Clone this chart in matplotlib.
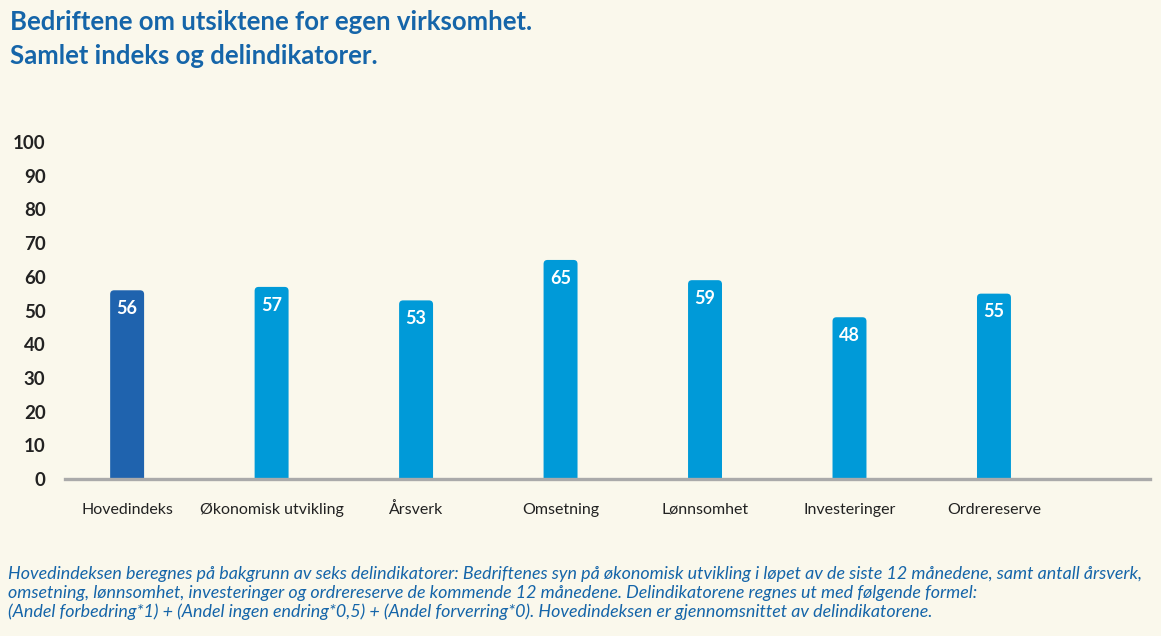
import matplotlib
matplotlib.use("Agg")
import matplotlib.pyplot as plt
from matplotlib.patches import FancyBboxPatch
from matplotlib.transforms import blended_transform_factory

categories = ["Hovedindeks", "Økonomisk utvikling", "Årsverk", "Omsetning",
              "Lønnsomhet", "Investeringer", "Ordrereserve"]
values = [56, 57, 53, 65, 59, 48, 55]
y_ticks = [0, 10, 20, 30, 40, 50, 60, 70, 80, 90, 100]

title = "Bedriftene om utsiktene for egen virksomhet.\nSamlet indeks og delindikatorer."
footnote = ("Hovedindeksen beregnes på bakgrunn av seks delindikatorer: Bedriftenes syn på økonomisk utvikling i løpet av de siste 12 månedene, samt antall årsverk,\n"
            "omsetning, lønnsomhet, investeringer og ordrereserve de kommende 12 månedene. Delindikatorene regnes ut med følgende formel:\n"
            "(Andel forbedring*1) + (Andel ingen endring*0,5) + (Andel forverring*0). Hovedindeksen er gjennomsnittet av delindikatorene.")

BG = "#faf8ec"
DARK = "#1f63ae"
LIGHT = "#009ad8"
TITLE_C = "#1565a9"
plt.rcParams['font.family'] = ['Lato', 'DejaVu Sans']

W, H = 1161, 636
fig = plt.figure(figsize=(W / 100, H / 100), dpi=100, facecolor=BG)
ax = fig.add_axes([65 / W, 1 - 479 / H, (1150 - 65) / W, (479 - 142) / H])
ax.set_facecolor(BG)

x = list(range(len(categories)))
colors = [DARK] + [LIGHT] * (len(categories) - 1)
bars = ax.bar(x, values, width=0.235, color=colors)
ax.set_xlim(-0.43, 7.08)
ax.set_ylim(0, 100)

# rounded top corners
ppx = (1150 - 65) / (7.08 + 0.43)
ppy = (479 - 142) / 100
for b, c in zip(bars, colors):
    bx, by, bw, bh = b.get_x(), b.get_y(), b.get_width(), b.get_height()
    b.set_visible(False)
    r = 4 / ppx
    p = FancyBboxPatch((bx, by - 2), bw, bh + 2,
                       boxstyle=f"round,pad=0,rounding_size={r}",
                       mutation_aspect=ppx / ppy, facecolor=c, edgecolor='none',
                       zorder=2)
    ax.add_patch(p)

for xi, v in zip(x, values):
    ax.annotate(str(v), (xi, v), xytext=(0, -7), textcoords='offset points',
                ha='center', va='top', color='white', fontsize=13,
                fontweight='bold', zorder=3)

ax.set_yticks(y_ticks)
ax.set_yticklabels([str(t) for t in y_ticks], fontsize=13.5, fontweight='bold',
                   color='#222222')
ax.set_xticks(x)
ax.set_xticklabels([])
trans = blended_transform_factory(ax.transData, ax.transAxes)
for xi, lab in zip(x, categories):
    ax.text(xi, -(514 - 479) / (479 - 142), lab, transform=trans, ha='center',
            va='baseline', fontsize=11.5, color='#222222', clip_on=False)
ax.tick_params(axis='y', length=0, pad=14)
ax.tick_params(axis='x', length=0)
for s in ['top', 'right', 'left']:
    ax.spines[s].set_visible(False)
ax.spines['bottom'].set_color('#aaaaaa')
ax.spines['bottom'].set_linewidth(2.4)
ax.spines['bottom'].set_zorder(4)

fig.text(10 / W, 1 - 39 / H, title, fontsize=18.5, fontweight='bold',
         color=TITLE_C, ha='left', va='center', linespacing=1.5)
fig.text(8 / W, 1 - 593 / H, footnote, fontsize=12.9, style='italic',
         color=TITLE_C, ha='left', va='center', linespacing=1.2)

fig.savefig("out.png", dpi=100, facecolor=BG)
